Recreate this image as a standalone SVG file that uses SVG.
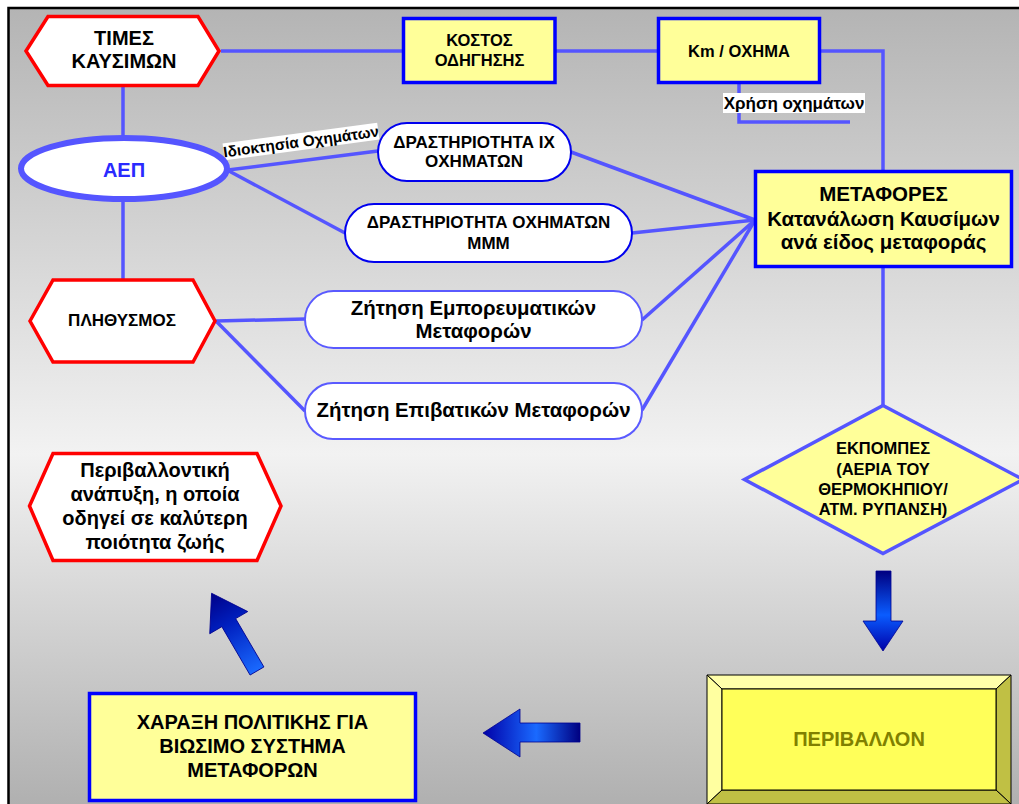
<svg xmlns="http://www.w3.org/2000/svg" width="1019" height="804" viewBox="0 0 1019 804">
<style>
text{font-family:"Liberation Sans",Arial,sans-serif;font-weight:bold;fill:#000;text-anchor:middle}
.hex{fill:#fff;stroke:#ff0000;stroke-width:3.5;stroke-linejoin:miter}
.box{fill:#ffff99;stroke:#0000ff;stroke-width:3.5}
.pill{fill:#fff;stroke:#0000ee;stroke-width:2}
.pill2{fill:#fff;stroke:#5a5aff;stroke-width:2}
.con{fill:none;stroke:#5555ff;stroke-width:3.5;stroke-linecap:butt}
.lbl{fill:#fff}
.bev{stroke:#000;stroke-width:1}
.arr{stroke:#000090;stroke-width:0.8}
</style>
<defs>
<linearGradient id="bg" gradientUnits="userSpaceOnUse" x1="0" y1="8" x2="0" y2="804">
<stop offset="0" stop-color="#b4b4b4"/>
<stop offset="0.56" stop-color="#f2f2f2"/>
<stop offset="1" stop-color="#b0b0b0"/>
</linearGradient>
<linearGradient id="gDown" x1="0" y1="0" x2="0" y2="1">
<stop offset="0" stop-color="#000080"/>
<stop offset="0.55" stop-color="#0a5cff"/>
<stop offset="1" stop-color="#0000a8"/>
</linearGradient>
<linearGradient id="gLeft" x1="1" y1="0" x2="0" y2="0">
<stop offset="0" stop-color="#000080"/>
<stop offset="0.45" stop-color="#1a6aff"/>
<stop offset="1" stop-color="#0000a8"/>
</linearGradient>
<linearGradient id="gDiag" gradientUnits="userSpaceOnUse" x1="0" y1="0" x2="90" y2="0">
<stop offset="0" stop-color="#1a6aff"/>
<stop offset="0.6" stop-color="#0020c0"/>
<stop offset="1" stop-color="#000088"/>
</linearGradient>
</defs>
<rect x="0" y="0" width="1019" height="804" fill="#fff"/>
<rect x="8.5" y="8" width="1020" height="810" fill="url(#bg)" stroke="#000" stroke-width="2.5"/>

<g id="connectors">
<polyline class="con" points="221,51 403,51"/>
<polyline class="con" points="551,51 658,51"/>
<polyline class="con" points="820,51 883,51 883,171"/>
<polyline class="con" points="739,84 739,122 850,122"/>
<polyline class="con" points="123,86 123,138"/>
<polyline class="con" points="123,199 123,280"/>
<polyline class="con" points="228,170 378,151"/>
<polyline class="con" points="229,171 345,233"/>
<polyline class="con" points="571,152 755,220"/>
<polyline class="con" points="632,233 755,220"/>
<polyline class="con" points="216,321 305,319"/>
<polyline class="con" points="216,321 305,411"/>
<polyline class="con" points="642,320 755,220"/>
<polyline class="con" points="642,410 755,220"/>
<polyline class="con" points="883,268 883,405"/>
</g>

<g id="label-idioktisia" transform="translate(301,141.5) rotate(-7.7)">
<rect class="lbl" x="-78" y="-8.5" width="156" height="17"/>
<text x="0" y="5.5" font-size="15.3">Ιδιοκτησία Οχημάτων</text>
</g>
<g id="label-xrisi">
<rect class="lbl" x="723" y="93" width="142" height="20"/>
<text x="794" y="109" font-size="17">Χρήση οχημάτων</text>
</g>

<g id="n-times">
<polygon class="hex" points="26,51 48,16.5 198,16.5 219,51 198,85.5 48,85.5"/>
<text x="124" y="45" font-size="20">ΤΙΜΕΣ</text>
<text x="124" y="68" font-size="20">ΚΑΥΣΙΜΩΝ</text>
</g>
<g id="n-kostos">
<rect class="box" x="403.5" y="18.5" width="151.5" height="64"/>
<text x="479.5" y="46" font-size="16.5">ΚΟΣΤΟΣ</text>
<text x="479.5" y="66" font-size="16.5">ΟΔΗΓΗΣΗΣ</text>
</g>
<g id="n-km">
<rect class="box" x="658.5" y="18.5" width="161" height="64"/>
<text x="739" y="56.5" font-size="16.5">Km / ΟΧΗΜΑ</text>
</g>
<g id="n-aep">
<ellipse cx="124" cy="168.5" rx="103" ry="30.5" fill="#fff" stroke="#5555ff" stroke-width="6"/>
<text x="124" y="177" font-size="20" style="fill:#2a2aff">ΑΕΠ</text>
</g>
<g id="n-ix">
<rect class="pill" x="378" y="123" width="193" height="58" rx="29"/>
<text x="474" y="147.5" font-size="17">ΔΡΑΣΤΗΡΙΟΤΗΤΑ ΙΧ</text>
<text x="474" y="167" font-size="17">ΟΧΗΜΑΤΩΝ</text>
</g>
<g id="n-mmm">
<rect class="pill" x="345" y="204" width="287" height="58" rx="29"/>
<text x="488.5" y="227.5" font-size="17">ΔΡΑΣΤΗΡΙΟΤΗΤΑ ΟΧΗΜΑΤΩΝ</text>
<text x="488.5" y="248.5" font-size="17">ΜΜΜ</text>
</g>
<g id="n-metafores">
<rect class="box" x="755.5" y="171.5" width="256" height="95"/>
<text x="883.5" y="201" font-size="20.5">ΜΕΤΑΦΟΡΕΣ</text>
<text x="883.5" y="225.5" font-size="20.5">Κατανάλωση Καυσίμων</text>
<text x="883.5" y="249" font-size="20.5">ανά είδος μεταφοράς</text>
</g>
<g id="n-plithysmos">
<polygon class="hex" points="30,321 53,280 193,280 215,321 193,362 53,362"/>
<text x="122" y="326" font-size="17">ΠΛΗΘΥΣΜΟΣ</text>
</g>
<g id="n-emporeum">
<rect class="pill2" x="305" y="291" width="337" height="57" rx="28.5"/>
<text x="473.5" y="314.5" font-size="20.4">Ζήτηση Εμπορευματικών</text>
<text x="473.5" y="337.5" font-size="20.4">Μεταφορών</text>
</g>
<g id="n-epivat">
<rect class="pill2" x="305" y="383" width="337" height="56" rx="28"/>
<text x="473.5" y="417" font-size="20.4">Ζήτηση Επιβατικών Μεταφορών</text>
</g>
<g id="n-ekpompes">
<polygon points="883,405.5 1023,479.5 883,553.5 744.5,479.5" fill="#ffff99" stroke="#5555ff" stroke-width="3.5"/>
<text x="883" y="454" font-size="16.5">ΕΚΠΟΜΠΕΣ</text>
<text x="883" y="474.5" font-size="16.5">(ΑΕΡΙΑ ΤΟΥ</text>
<text x="883" y="495" font-size="16.5">ΘΕΡΜΟΚΗΠΙΟΥ/</text>
<text x="883" y="515" font-size="16.5">ΑΤΜ. ΡΥΠΑΝΣΗ)</text>
</g>
<g id="n-perivalontiki">
<polygon class="hex" points="29.5,506 53,453.5 257,453.5 281,506 257,560.5 53,560.5"/>
<text x="155" y="477" font-size="20">Περιβαλλοντική</text>
<text x="155" y="501" font-size="20">ανάπυξη, η οποία</text>
<text x="155" y="525" font-size="20">οδηγεί σε καλύτερη</text>
<text x="155" y="549" font-size="20">ποιότητα ζωής</text>
</g>
<g id="n-perivallon">
<polygon class="bev" points="707,675 1011,675 996,689 722,689" fill="#ffffaa"/>
<polygon class="bev" points="707,675 722,689 722,790 707,804" fill="#ffffa0"/>
<polygon class="bev" points="1011,675 1011,804 996,790 996,689" fill="#c0c044"/>
<polygon class="bev" points="707,804 722,790 996,790 1011,804" fill="#c0c044"/>
<rect class="bev" x="722" y="689" width="274" height="101" fill="#ffff59"/>
<text x="859" y="746" font-size="20" style="fill:#808000">ΠΕΡΙΒΑΛΛΟΝ</text>
</g>
<g id="n-xaraxi">
<rect class="box" x="89.5" y="693.5" width="326" height="107"/>
<text x="252.5" y="728.5" font-size="20">ΧΑΡΑΞΗ ΠΟΛΙΤΙΚΗΣ ΓΙΑ</text>
<text x="252.5" y="752.5" font-size="20">ΒΙΩΣΙΜΟ ΣΥΣΤΗΜΑ</text>
<text x="252.5" y="776.5" font-size="20">ΜΕΤΑΦΟΡΩΝ</text>
</g>

<g id="arrow-down">
<polygon class="arr" points="876,571 891,571 891,621 903,621 883,651 863,621 876,621" fill="url(#gDown)"/>
</g>
<g id="arrow-left">
<polygon class="arr" points="580,723 520,723 520,709 483,733 520,757 520,742 580,742" fill="url(#gLeft)"/>
</g>
<g id="arrow-diag" transform="translate(257,671) rotate(-120.3)">
<polygon class="arr" points="0,-8 56,-8 56,-22 90,0 56,22 56,8 0,8" fill="url(#gDiag)"/>
</g>
</svg>
